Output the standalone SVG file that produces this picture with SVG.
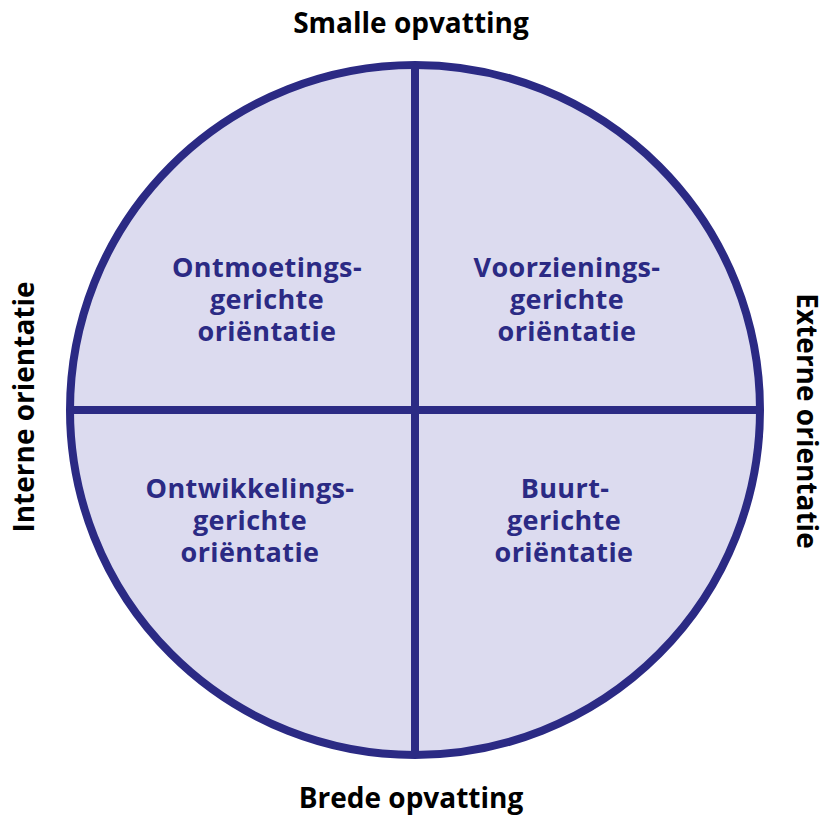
<svg xmlns="http://www.w3.org/2000/svg" width="823" height="816" viewBox="0 0 823 816">
<style>
.ax{font-family:"Open Sans","Liberation Sans",sans-serif;font-weight:bold;font-size:28px;fill:#000;text-anchor:middle}
.lb{font-family:"Open Sans","Liberation Sans",sans-serif;font-weight:bold;font-size:27px;letter-spacing:0.4px;fill:#2b2a84;text-anchor:middle}
.ln{stroke:#2b2a84;stroke-width:8;fill:none}
</style>
<rect width="823" height="816" fill="#fff"/>
<g id="circle">
<circle cx="415" cy="410" r="345" fill="#dcdbef" stroke="#2b2a84" stroke-width="8"/>
</g>
<g id="connectors">
<line class="ln" x1="415" y1="66" x2="415" y2="754"/>
<line class="ln" x1="71" y1="410" x2="759" y2="410"/>
</g>
<g id="axis-top"><text class="ax" x="411" y="33">Smalle opvatting</text></g>
<g id="axis-bottom"><text class="ax" x="411" y="808">Brede opvatting</text></g>
<g id="axis-left"><text class="ax" transform="translate(34,407) rotate(-90)">Interne orientatie</text></g>
<g id="axis-right"><text class="ax" transform="translate(797,421) rotate(90)">Externe orientatie</text></g>
<g id="q-tl"><text class="lb" x="267" y="277">Ontmoetings-<tspan x="267" y="309">gerichte</tspan><tspan x="267" y="341">oriëntatie</tspan></text></g>
<g id="q-tr"><text class="lb" x="567" y="277">Voorzienings-<tspan x="567" y="309">gerichte</tspan><tspan x="567" y="341">oriëntatie</tspan></text></g>
<g id="q-bl"><text class="lb" x="250" y="498">Ontwikkelings-<tspan x="250" y="530">gerichte</tspan><tspan x="250" y="562">oriëntatie</tspan></text></g>
<g id="q-br"><text class="lb" x="565" y="498">Buurt-<tspan x="564" y="530">gerichte</tspan><tspan x="564" y="562">oriëntatie</tspan></text></g>
</svg>
